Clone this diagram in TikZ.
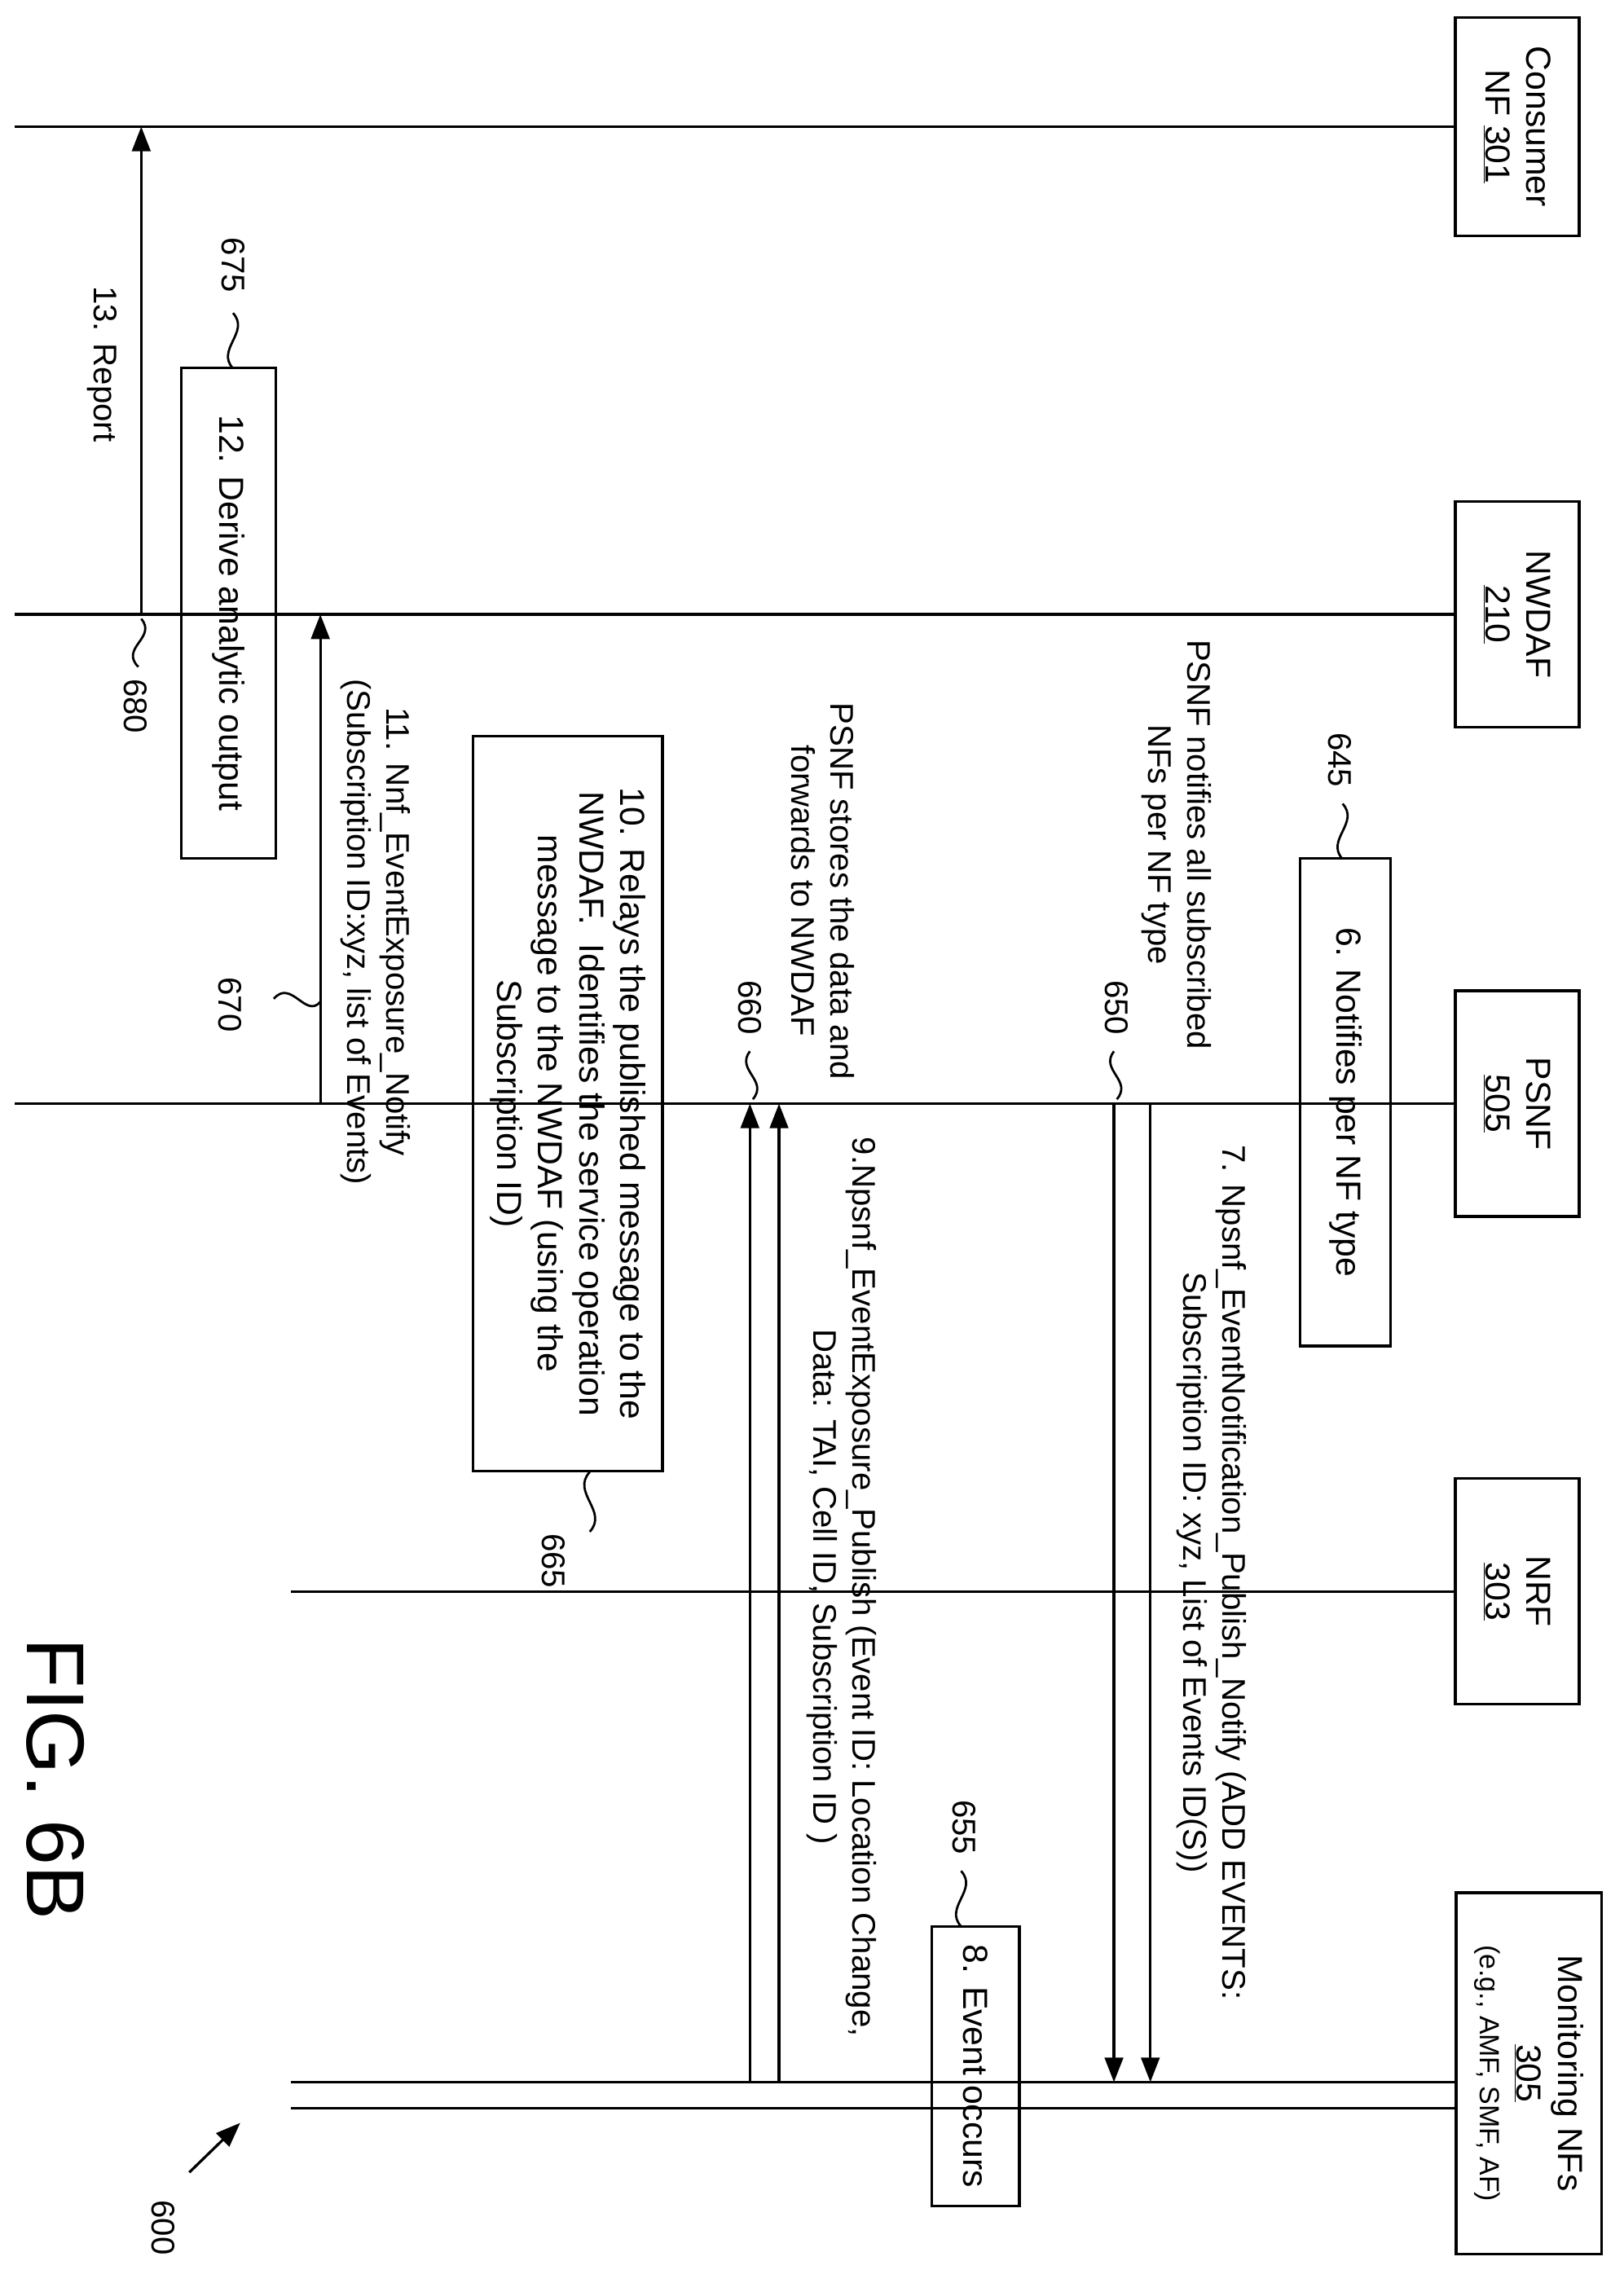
\documentclass[tikz,border=0pt]{standalone}
\usepackage{fontspec}
\setmainfont{Liberation Sans}
\usetikzlibrary{arrows.meta}
\begin{document}
\begin{tikzpicture}[x=0.5mm,y=-0.5mm,line width=2.6pt,
 box/.style={draw,rotate=-90,align=center,font=\fontsize{34}{40}\selectfont,inner sep=0pt},
 lbl/.style={rotate=-90,align=center,font=\fontsize{32}{38}\selectfont,inner sep=0pt},
 arr/.style={-{Triangle[length=24pt,width=18pt]}},
 sq/.style={line width=2.2pt}]
\useasboundingbox (0,0) rectangle (1115,1568);
\def\u{1.4226pt}
% headers
\node[box,minimum width=150*\u,minimum height=85*\u] (c) at (1042,87) {Consumer\\NF \underline{301}};
\node[box,minimum width=155*\u,minimum height=85*\u] (nw) at (1042,422) {NWDAF\\\underline{210}};
\node[box,minimum width=155*\u,minimum height=85*\u] (ps) at (1042,758) {PSNF\\\underline{505}};
\node[box,minimum width=155*\u,minimum height=85*\u] (nr) at (1042,1093) {NRF\\\underline{303}};
\node[box,minimum width=248*\u,minimum height=100*\u] (mo) at (1050,1424) {Monitoring NFs\\\underline{305}\\[-4pt]{\fontsize{27}{32}\selectfont (e.g., AMF, SMF, AF)}};
% lifelines
\coordinate (cL) at (10,87); \coordinate (nwL) at (10,422); \coordinate (psL) at (10,758);
\coordinate (nrL) at (200,1093); \coordinate (m1) at (200,1430); \coordinate (m2) at (200,1448);
\draw (c.south) -- (cL); \draw (nw.south) -- (nwL); \draw (ps.south) -- (psL);
\draw (nr.south) -- (nrL);
\draw (1000,1430) -- (m1); \draw (1000,1448) -- (m2);
% 13
\coordinate (a13s) at (97,422); \coordinate (a13e) at (97,87);
\draw[arr] (a13s) -- (a13e);
\node[lbl] (t13) at (70,250) {13. Report};
% 12
\node[box,minimum width=337*\u,minimum height=65*\u] (b12) at (157,421) {12. Derive analytic output};
\draw[sq] (160,253) .. controls (148,240) and (172,228) .. (160,215);
\node[lbl] (n675) at (160,182) {675};
\draw[sq] (97,425) .. controls (108,438) and (82,445) .. (95,458);
\node[lbl] (n680) at (93,485) {680};
% 11
\coordinate (a11s) at (220,758); \coordinate (a11e) at (220,422);
\draw[arr] (a11s) -- (a11e);
\node[lbl] (t11) at (258,640) {11. Nnf\_EventExposure\_Notify\\(Subscription ID:xyz, list of Events)};
\draw[sq] (220,688) .. controls (210,700) and (200,672) .. (188,686);
\node[lbl] (n670) at (158,690) {670};
% 10
\node[box,minimum width=505*\u,minimum height=130*\u] (b10) at (390,758) {10. Relays the published message to the\\NWDAF.\ \ Identifies the service operation\\message to the NWDAF (using the\\Subscription ID)};
\draw[sq] (405,1011) .. controls (392,1025) and (418,1038) .. (405,1052);
\node[lbl] (n665) at (380,1072) {665};
% 9
\coordinate (a9as) at (515,1430); \coordinate (a9ae) at (515,758);
\coordinate (a9bs) at (535,1430); \coordinate (a9be) at (535,758);
\draw[arr] (a9as) -- (a9ae); \draw[arr] (a9bs) -- (a9be);
\node[lbl] (t9) at (578,1090) {9.Npsnf\_EventExposure\_Publish (Event ID: Location Change,\\Data: TAI, Cell ID, Subscription ID )};
\draw[sq] (517,755) .. controls (528,742) and (505,735) .. (515,722);
\node[lbl] (n660) at (515,692) {660};
\node[lbl] (t660) at (565,612) {PSNF stores the data and\\forwards to NWDAF};
% 8
\node[box,minimum width=192*\u,minimum height=60*\u] (b8) at (670,1419) {8. Event occurs};
\draw[sq] (660,1323) .. controls (648,1310) and (672,1298) .. (660,1285);
\node[lbl] (n655) at (662,1255) {655};
% 7
\coordinate (a7as) at (765,758); \coordinate (a7ae) at (765,1430);
\coordinate (a7bs) at (790,758); \coordinate (a7be) at (790,1430);
\draw[arr] (a7as) -- (a7ae); \draw[arr] (a7bs) -- (a7be);
\node[lbl] (t7) at (832,1080) {7. Npsnf\_EventNotification\_Publish\_Notify (ADD EVENTS:\\Subscription ID: xyz, List of Events ID(S))};
\draw[sq] (767,755) .. controls (778,742) and (755,735) .. (765,722);
\node[lbl] (n650) at (767,692) {650};
\node[lbl] (t650) at (808,580) {PSNF notifies all subscribed\\NFs per NF type};
% 6
\node[box,minimum width=335*\u,minimum height=62*\u] (b6) at (924,757) {6. Notifies per NF type};
\draw[sq] (922,590) .. controls (910,577) and (934,565) .. (922,552);
\node[lbl] (n645) at (920,522) {645};
% fig
\node[rotate=-90,font=\fontsize{80}{90}\selectfont] (fig) at (38,1222) {FIG. 6B};
\node[lbl] (n600) at (112,1530) {600};
\coordinate (p600) at (165,1458);
\draw[arr] (130,1492) -- (p600);
\end{tikzpicture}
\end{document}
